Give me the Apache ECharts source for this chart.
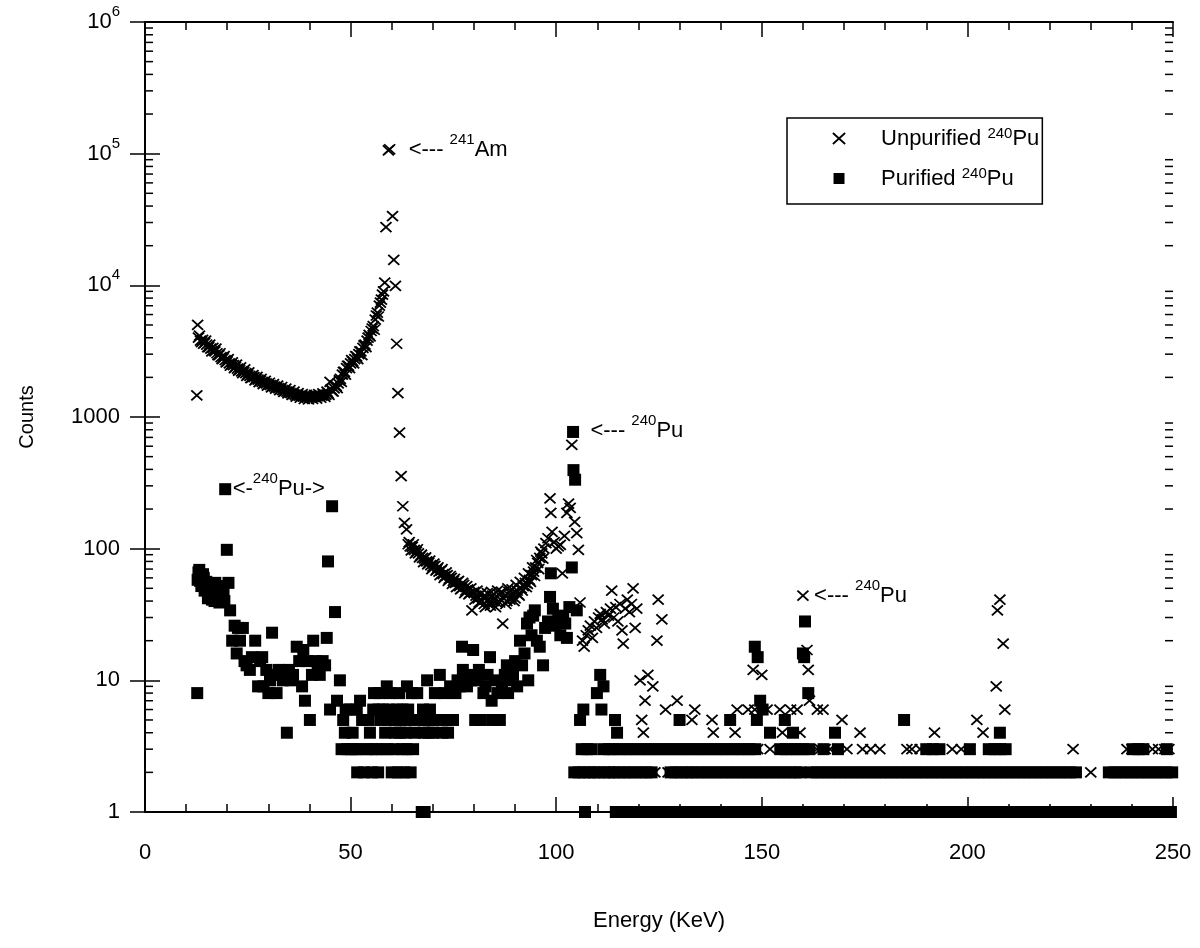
<!DOCTYPE html>
<html>
<head>
<meta charset="utf-8">
<title>240Pu gamma spectra</title>
<script src="https://cdn.jsdelivr.net/npm/echarts@6/dist/echarts.min.js"></script>
<style>
  html, body { margin: 0; padding: 0; background: #fff; }
  #chart { width: 1200px; height: 948px; }
</style>
</head>
<body>
<div id="chart"></div>
<script>
// axis ticks
const xTicks = [0, 50, 100, 150, 200, 250];
const yTickLabels = ['1', '10', '100', '1000', '10{sup|4}', '10{sup|5}', '10{sup|6}'];

// unpurified 240Pu, [energy keV, counts]
const unpurified = [
  [12.6,1460],[12.8,5000],[13.0,4000],[13.5,3800],[14.0,3850],[14.5,3650],[15.0,3550],[15.5,3400],[16.0,3300],[16.5,3350],
  [17.0,3150],[17.5,3050],[18.0,2950],[18.5,2850],[19.0,2800],[19.5,2700],[20.0,2650],[20.5,2550],[21.0,2500],[21.5,2480],
  [22.0,2400],[22.5,2330],[23.0,2280],[23.5,2220],[24.0,2200],[24.5,2150],[25.0,2100],[25.5,2050],[26.0,2000],[26.5,2010],
  [27.0,1950],[27.5,1920],[28.0,1880],[28.5,1850],[29.0,1820],[29.5,1800],[30.0,1760],[30.5,1750],[31.0,1720],[31.5,1700],
  [32.0,1680],[32.5,1660],[33.0,1630],[33.5,1600],[34.0,1580],[34.5,1560],[35.0,1540],[35.5,1520],[36.0,1500],[36.5,1480],
  [37.0,1470],[37.5,1450],[38.0,1440],[38.5,1430],[39.0,1420],[39.5,1400],[40.0,1410],[40.5,1400],[41.0,1420],[41.5,1430],
  [42.0,1440],[42.5,1430],[43.0,1450],[43.5,1460],[44.0,1480],[44.5,1520],[45.0,1850],[45.5,1580],[46.0,1650],[46.5,1720],
  [47.0,1800],[47.5,1950],[48.0,2100],[48.5,2200],[49.0,2350],[49.5,2450],[50.0,2550],[50.5,2650],[51.0,2750],[51.5,2880],
  [52.0,3000],[52.5,3150],[53.0,3350],[53.5,3550],[54.0,3800],[54.5,4200],[55.0,4500],[55.5,4900],[56.0,5500],[56.5,6200],
  [57.0,7000],[57.5,7800],[58.0,9000],[58.3,10500],[58.6,27700],[59.2,106000],[59.5,108000],[60.2,33500],[60.5,15600],
  [60.9,9900],[61.2,3600],[61.5,1520],[61.9,760],[62.3,356],[62.7,210],[63.1,157],[63.6,140],[64.0,108],[64.5,104],
  [65.0,103],[65.5,98],[66.0,95],[66.5,92],[67.0,88],[67.5,85],[68.0,84],[68.5,80],[69.0,78],[69.5,75],[70.0,73],
  [70.5,74],[71.0,70],[71.5,67],[72.0,68],[72.5,64],[73.0,62],[73.5,63],[74.0,59],[74.5,60],[75.0,57],[75.5,55],
  [76.0,56],[76.5,52],[77.0,50],[77.5,53],[78.0,48],[78.5,49],[79.0,46],[79.5,34],[80.0,47],[80.5,44],[81.0,42],
  [81.5,45],[82.0,40],[82.5,38],[83.0,43],[83.5,41],[84.0,37],[84.5,44],[85.0,42],[85.5,39],[86.0,45],[86.5,41],
  [87.0,27],[87.5,44],[88.0,40],[88.5,47],[89.0,43],[89.5,46],[90.0,42],[90.5,48],[91.0,44],[91.5,50],[92.0,52],
  [92.5,55],[93.0,54],[93.5,58],[94.0,63],[94.5,67],[95.0,72],[95.5,78],[96.0,85],[96.5,92],[97.0,100],[97.5,110],
  [98.0,120],[98.5,241],[98.7,187],[99.0,134],[99.5,112],[100.0,100],[100.5,104],[101.0,107],[101.5,65],[102.0,125],
  [102.6,187],[103.0,220],[103.4,204],[103.8,614],[104.5,160],[105.0,131],[105.4,98],[105.8,39],[106.4,20],[106.8,18],
  [107.3,22],[107.8,24],[108.3,26],[108.8,21],[109.3,28],[109.8,25],[110.3,30],[110.7,32],[111.2,29],[111.7,27],
  [112.2,33],[112.7,31],[113.2,35],[113.5,48],[114.0,30],[114.5,36],[115.0,28],[115.5,38],[116.0,24],[116.3,19],
  [116.8,35],[117.3,41],[117.8,33],[118.3,38],[118.7,50],[119.2,25],[119.6,35],
  [120.4,10],[120.8,5],[121.2,4],[121.6,7],[122.3,11],[123.5,9],[124.5,20],[124.8,41],[125.7,29],[126.6,6],[129.4,7],
  [133.0,5],[133.7,6],[137.9,5],[138.2,4],[143.5,4],[144.0,6],[146.7,6],[147.9,12],[148.3,6],[150.0,11],[151.3,6],
  [154.4,6],[155.0,4],[155.6,5],[157.0,6],[158.6,6],[159.3,4],[160.0,44],[161.0,17],[161.3,12],[161.6,7],[163.5,6],
  [164.9,6],[169.5,5],[173.9,4],[192.0,4],[202.3,5],[203.8,4],[207.0,9],[207.3,34],[207.9,41],[208.7,19],[209.1,6]
];
// in-between channels of the unpurified continuum, [energy keV, counts]
const unpurifiedFill = [
  [13.25,4150],[13.75,3700],[14.25,3600],[14.75,3800],[15.25,3400],[15.75,3550],[16.25,3150],[16.75,3200],[17.25,3300],
  [17.75,2950],[18.25,3050],[18.75,2750],[19.25,2900],[19.75,2600],[20.25,2750],[20.75,2450],[21.25,2600],[21.75,2350],
  [22.25,2500],[22.75,2250],[23.25,2380],[23.75,2150],[24.25,2300],[24.75,2050],[25.25,2180],[25.75,1970],[26.25,2080],
  [26.75,1900],[27.25,2020],[27.75,1840],[28.25,1950],[28.75,1780],[29.25,1880],[29.75,1730],[30.25,1820],[30.75,1680],
  [31.25,1780],[31.75,1640],[32.25,1730],[32.75,1600],[33.25,1690],[33.75,1550],[34.25,1640],[34.75,1510],[35.25,1600],
  [35.75,1470],[36.25,1560],[36.75,1430],[37.25,1520],[37.75,1400],[38.25,1490],[38.75,1370],[39.25,1470],[39.75,1360],
  [40.25,1460],[40.75,1370],[41.25,1470],[41.75,1380],[42.25,1490],[42.75,1400],[43.25,1510],[43.75,1420],[44.25,1560],
  [44.75,1470],[45.25,1620],[45.75,1560],[46.25,1740],[46.75,1660],[47.25,1900],[47.75,1850],[48.25,2200],[48.75,2100],
  [49.25,2450],[49.75,2350],[50.25,2700],[50.75,2550],[51.25,2900],[51.75,2750],[52.25,3150],[52.75,2950],[53.25,3500],
  [53.75,3400],[54.25,4000],[54.75,4100],[55.25,4700],[55.75,4600],[56.25,5900],[56.75,5800],[57.25,7400],[57.75,8500],
  [64.25,112],[64.75,97],[65.25,108],[65.75,92],[66.25,99],[66.75,86],[67.25,90],[67.75,79],[68.25,86],[68.75,76],
  [69.25,81],[69.75,70],[70.25,77],[70.75,68],[71.25,72],[71.75,63],[72.25,70],[72.75,60],[73.25,66],[73.75,57],
  [74.25,62],[74.75,54],[75.25,59],[75.75,51],[76.25,57],[76.75,49],[77.25,55],[77.75,46],[78.25,52],[78.75,45],
  [79.25,50],[80.25,41],[80.75,48],[81.25,39],[81.75,46],[82.25,43],[82.75,36],[83.25,46],[83.75,39],[84.25,47],
  [84.75,40],[85.25,36],[85.75,48],[86.25,39],[86.75,47],[87.25,42],[87.75,38],[88.25,50],[88.75,41],[89.25,49],
  [89.75,40],[90.25,53],[90.75,45],[91.25,56],[91.75,48],[92.25,60],[92.75,51],[93.25,65],[93.75,56],[94.25,72],
  [94.75,62],[95.25,82],[95.75,70],[96.25,95],[96.75,84]
];
// energies of unpurified channels sitting at 1, 2 and 3 counts
const unpurifiedOnes = [117.0, 137.5, 158.5, 183.0, 214.0, 238.0];
const unpurifiedTwos = [124.0, 127.2, 128.5, 130.8, 132.3, 135.3, 137.0, 140.0, 142.0, 146.0, 153.0, 162.5, 166.6, 167.5,
  168.8, 170.2, 171.5, 172.5, 175.5, 177.5, 180.0, 182.0, 190.0, 193.0, 194.5, 196.0, 197.5, 199.5, 201.0, 203.0, 205.0,
  206.0, 230.0, 244.0];
const unpurifiedThrees = [122.8, 126.2, 127.8, 130.0, 131.5, 134.5, 136.0, 139.0, 141.0, 145.0, 149.0, 152.0, 156.5, 158.0,
  160.6, 163.4, 164.2, 165.4, 166.6, 168.5, 170.7, 174.5, 176.5, 178.7, 185.3, 186.5, 188.5, 196.3, 198.5, 200.6, 225.7,
  238.8, 240.0, 241.5, 242.7, 245.0, 246.5, 248.0, 249.0];

// purified 240Pu, [energy keV, counts]
const purified = [
  [12.7,8],[12.8,58],[13.0,66],[13.2,69],[13.4,57],[13.5,62],[13.7,52],[13.9,55],[14.1,64],[14.3,60],[14.5,48],[14.7,50],
  [14.9,56],[15.0,49],[15.3,42],[15.5,45],[15.7,49],[15.9,52],[16.1,54],[16.3,41],[16.5,44],[16.7,47],[16.9,40],[17.1,55],
  [17.3,46],[17.5,50],[17.7,52],[17.9,44],[18.1,39],[18.3,48],[18.5,44],[18.7,41],[18.9,50],[19.1,45],[19.3,40],
  [19.5,283],[19.9,98],[20.3,55],[20.7,34],
  [21.2,20],[21.8,26],[22.3,16],[22.6,25],[23.1,20],[23.8,25],[24.2,14],[24.7,13],[25.5,12],[26.0,15],[26.8,20],[27.5,9],
  [28.0,14],[28.5,15],[28.8,9],[29.5,12],[30.0,8],[30.4,10],[30.9,23],[31.2,11],[32.0,8],[32.5,12],[33.0,11],[33.5,10],
  [34.0,11],[34.5,4],[35.0,12],[35.5,10],[36.0,11],[36.9,18],[37.5,14],[38.2,9],[38.5,17],[38.9,7],[39.5,14],[40.1,5],
  [40.6,11],[40.9,20],[41.5,14],[42.0,12],[42.5,11],[43.2,14],[43.8,13],[44.2,21],[44.5,80],[45.0,6],[45.5,210],[46.2,33],
  [46.7,7],[47.4,10],[47.8,3],[48.2,5],[48.6,4],[48.8,6],[49.2,3],[49.9,6],[50.2,3],[50.5,4],[51.0,3],[51.5,6],[51.6,2],
  [52.0,3],[52.3,7],[52.8,5],[53.3,2],[53.8,3],[54.3,5],[54.7,4],[55.0,3],[55.2,2],[55.5,6],[55.7,8],[56.2,3],[56.7,2],
  [56.8,6],[57.0,8],[57.2,5],[57.6,3],[57.9,6],[58.4,4],[58.8,9],[59.0,3],[59.2,5],[59.4,6],[59.6,8],[60.0,2],[60.5,3],
  [60.8,4],[61.0,5],[61.3,6],[61.5,2],[61.8,8],[62.0,4],[62.5,3],[62.6,6],[62.8,5],[63.0,2],[63.4,4],[63.6,3],[63.7,9],
  [64.0,6],[64.4,5],[64.6,2],[64.9,8],[65.2,3],[65.6,4],[66.2,8],[66.9,5],[67.3,1],[67.6,6],[67.8,4],[68.0,1],[68.2,5],
  [68.6,10],[69.0,4],[69.3,6],[69.8,5],[70.0,4],[70.5,8],[71.0,5],[71.7,11],[72.3,4],[72.8,8],[73.3,5],[73.7,4],[74.2,9],
  [74.9,5],[75.5,8],[76.0,10],[76.5,9],[77.1,18],[77.3,12],[77.8,10],[78.3,9],[78.8,11],[79.3,10],[79.8,17],[80.3,5],
  [80.7,10],[81.2,12],[81.7,5],[82.3,8],[82.8,9],[83.3,11],[83.9,15],[84.3,7],[84.6,5],[85.2,10],[85.7,8],[86.3,5],
  [86.8,9],[87.5,11],[88.0,13],[88.3,8],[88.6,10],[89.0,12],[89.5,11],[90.0,14],[90.5,9],[91.2,20],[91.7,13],[92.3,16],
  [92.9,27],[93.2,10],[93.5,30],[94.0,22],[94.4,31],[94.8,34],[95.3,20],[96.0,18],[96.8,13],[97.3,25],[98.0,28],
  [98.5,43],[98.7,65],[99.2,35],[99.8,26],[100.5,30],[101.0,22],[101.7,31],[102.2,27],[102.6,21],[103.2,36],[103.8,72],
  [104.1,770],[104.2,395],[104.6,334],[105.0,34],[105.8,5],[106.6,6],[109.9,8],[110.7,11],[111.0,6],[111.5,9],[114.3,5],
  [114.8,4],[130.0,5],[142.3,5],[148.3,18],[148.8,5],[149.0,15],[149.6,7],[150.2,6],[152.0,4],[155.6,5],[157.6,4],
  [160.0,16],[160.3,15],[160.5,28],[161.3,8],[167.8,4],[184.6,5],[207.9,4]
];
// energies of purified channels sitting at 1, 2 and 3 counts
const purifiedOnes = [107.0, 114.5, 116.0, 117.3, 119.0, 120.5, 122.0, 123.4, 125.0, 126.5, 128.0, 129.5, 131.0, 132.6,
  134.0, 135.5, 137.0, 138.6, 140.0, 141.5, 143.0, 144.6, 146.0, 147.5, 149.0, 150.6, 152.0, 153.5, 155.0, 156.6, 158.0,
  159.5, 161.0, 162.6, 164.0, 165.5, 167.0, 168.6, 170.0, 171.5, 173.0, 174.6, 176.0, 177.5, 179.0, 180.6, 182.0, 183.5,
  185.0, 186.6, 188.0, 189.5, 191.0, 192.6, 194.0, 195.5, 197.0, 198.6, 200.0, 201.5, 203.0, 204.6, 206.0, 207.5, 209.0,
  210.6, 212.0, 213.5, 215.0, 216.6, 218.0, 219.5, 221.0, 222.6, 224.0, 225.5, 227.0, 228.6, 230.0, 231.5, 233.0, 234.6,
  236.0, 237.5, 239.0, 240.6, 242.0, 243.5, 245.0, 246.6, 248.0, 249.5];
const purifiedTwos = [104.4, 105.5, 106.8, 108.0, 109.2, 110.3, 111.8, 112.9, 114.0, 115.2, 116.6, 117.8, 119.2, 120.6,
  122.0, 123.2, 127.8, 129.0, 130.4, 131.8, 133.0, 134.4, 135.8, 137.2, 138.6, 140.0, 141.4, 142.8, 144.2, 145.6, 147.0,
  148.4, 149.8, 151.2, 152.6, 154.0, 155.4, 156.8, 158.2, 159.4, 162.0, 163.4, 164.8, 166.2, 167.6, 169.0, 170.4, 171.8,
  173.2, 174.6, 176.0, 177.4, 178.8, 180.2, 181.6, 183.0, 184.4, 185.8, 187.2, 188.6, 190.0, 191.4, 192.8, 194.2, 195.6,
  197.0, 198.4, 199.8, 201.2, 202.6, 204.0, 205.4, 206.8, 208.2, 209.6, 211.0, 212.4, 213.8, 215.2, 216.6, 218.0, 219.4,
  220.8, 222.2, 223.6, 225.0, 226.4, 234.4, 235.8, 237.2, 238.6, 240.0, 241.4, 242.8, 244.2, 245.6, 247.0, 248.4, 249.8];
const purifiedThrees = [106.2, 107.5, 108.6, 111.5, 112.8, 114.0, 115.5, 117.0, 118.3, 119.8, 121.2, 122.6, 124.0, 125.5,
  127.0, 128.4, 129.9, 131.3, 132.7, 134.2, 135.6, 137.0, 138.5, 139.9, 141.3, 142.8, 144.2, 145.6, 147.0, 148.4, 154.5,
  155.8, 157.2, 158.6, 160.0, 161.5, 165.0, 168.5, 190.0, 191.6, 193.2, 200.6, 205.2, 206.6, 208.0, 209.3, 240.2, 241.6,
  242.8, 248.5];

// peak labels: anchor [energy, counts] and text
const notes = [
  { e: 64.0, c: 107000, text: '<--- {sup|241}Am' },
  { e: 108.2, c: 790, text: '<--- {sup|240}Pu' },
  { e: 21.2, c: 283, text: '<-{sup|240}Pu->' },
  { e: 162.6, c: 44, text: '<--- {sup|240}Pu' }
];

const FONT = "'Liberation Sans', Arial, sans-serif";
const CROSS = 'path://M0,0L10,9M10,0L0,9';
const SQUARE = 'path://M0,0L10,0L10,10L0,10Z';
const SUP = { fontSize: 15, lineHeight: 15, padding: [0, 0, 20, 0], fontFamily: FONT, color: '#000' };
const SUP_LEGEND = { fontSize: 15, lineHeight: 15, padding: [0, 0, 10, 0], fontFamily: FONT, color: '#000' };

const rows = (energies, n) => energies.map(e => [e, n]);
const unpurifiedData = unpurified.concat(unpurifiedFill, rows(unpurifiedOnes, 1), rows(unpurifiedTwos, 2),
  rows(unpurifiedThrees, 3));
const purifiedData = purified.concat(rows(purifiedOnes, 1), rows(purifiedTwos, 2), rows(purifiedThrees, 3));

// log axis minor ticks 2..9 of every decade
const minorTicks = [];
for (let d = 0; d < 6; d++) {
  for (let m = 2; m < 10; m++) minorTicks.push([0, m * Math.pow(10, d)]);
}

const chart = echarts.init(document.getElementById('chart'));

const axisLine = { show: true, lineStyle: { color: '#000', width: 2 } };
const tick = { show: true, inside: true, length: 15, lineStyle: { color: '#000', width: 1.5 } };
const xMinor = { show: true, splitNumber: 5, length: 8, lineStyle: { color: '#000', width: 1.5 } };

const xBase = {
  type: 'value',
  min: xTicks[0],
  max: xTicks[xTicks.length - 1],
  interval: xTicks[1] - xTicks[0],
  axisLine: axisLine,
  axisTick: tick,
  minorTick: xMinor,
  splitLine: { show: false }
};
const yBase = {
  type: 'log',
  logBase: 10,
  min: 1,
  max: 1e6,
  axisLine: axisLine,
  axisTick: tick,
  splitLine: { show: false }
};

const option = {
  animation: false,
  backgroundColor: '#fff',
  grid: { left: 145, right: 27, top: 22, bottom: 136 },
  xAxis: [
    Object.assign({}, xBase, {
      position: 'bottom',
      name: 'Energy (KeV)',
      nameLocation: 'middle',
      nameGap: 98,
      nameTextStyle: { fontSize: 22, fontFamily: FONT, color: '#000' },
      axisLabel: { fontSize: 22, fontFamily: FONT, color: '#000', margin: 30 }
    }),
    Object.assign({}, xBase, { position: 'top', axisLabel: { show: false } })
  ],
  yAxis: [
    Object.assign({}, yBase, {
      position: 'left',
      name: 'Counts',
      nameLocation: 'middle',
      nameGap: 108,
      nameRotate: 90,
      nameTextStyle: { fontSize: 20, fontFamily: FONT, color: '#000' },
      axisLabel: {
        margin: 25,
        fontSize: 22,
        fontFamily: FONT,
        color: '#000',
        formatter: v => yTickLabels[Math.round(Math.log10(v))],
        rich: { sup: SUP }
      }
    }),
    Object.assign({}, yBase, { position: 'right', axisLabel: { show: false } })
  ],
  legend: {
    orient: 'vertical',
    left: 787,
    top: 118,
    padding: [8, 3, 13, 45],
    itemGap: 15,
    itemWidth: 74,
    itemHeight: 11,
    borderColor: '#000',
    borderWidth: 1.5,
    borderRadius: 0,
    textStyle: { fontSize: 22, fontFamily: FONT, color: '#000', rich: { sup: SUP_LEGEND } },
    formatter: name => name === 'Unpurified' ? 'Unpurified {sup|240}Pu' : 'Purified {sup|240}Pu',
    data: [
      { name: 'Unpurified', icon: CROSS, itemStyle: { color: 'rgba(0,0,0,0)', borderColor: '#000', borderWidth: 1.8 } },
      { name: 'Purified', icon: SQUARE, itemStyle: { color: '#000', borderWidth: 0 } }
    ]
  },
  series: [
    {
      name: 'Unpurified',
      type: 'scatter',
      symbol: CROSS,
      symbolSize: [11, 10],
      itemStyle: { color: 'rgba(0,0,0,0)', borderColor: '#000', borderWidth: 1.8, opacity: 1 },
      data: unpurifiedData
    },
    {
      name: 'Purified',
      type: 'scatter',
      symbol: 'rect',
      symbolSize: 12,
      itemStyle: { color: '#000', opacity: 1 },
      data: purifiedData
    },
    {
      name: 'notes',
      type: 'scatter',
      symbolSize: 1,
      itemStyle: { color: 'rgba(0,0,0,0)' },
      silent: true,
      z: 5,
      data: notes.map(n => ({
        value: [n.e, n.c],
        label: {
          show: true,
          position: 'right',
          distance: 0,
          formatter: n.text,
          fontSize: 22,
          fontFamily: FONT,
          color: '#000',
          opacity: 1,
          textBorderWidth: 0,
          rich: { sup: SUP }
        }
      }))
    },
    {
      name: 'minor',
      type: 'custom',
      silent: true,
      clip: false,
      z: 4,
      data: minorTicks,
      encode: { x: 0, y: 1 },
      renderItem: function (params, api) {
        const y = api.coord([0, api.value(1)])[1];
        const cs = params.coordSys;
        const style = { stroke: '#000', lineWidth: 1.5 };
        return {
          type: 'group',
          children: [
            { type: 'line', shape: { x1: cs.x, y1: y, x2: cs.x + 8, y2: y }, style: style },
            { type: 'line', shape: { x1: cs.x + cs.width - 8, y1: y, x2: cs.x + cs.width, y2: y }, style: style }
          ]
        };
      }
    }
  ]
};

chart.setOption(option);
</script>
</body>
</html>
